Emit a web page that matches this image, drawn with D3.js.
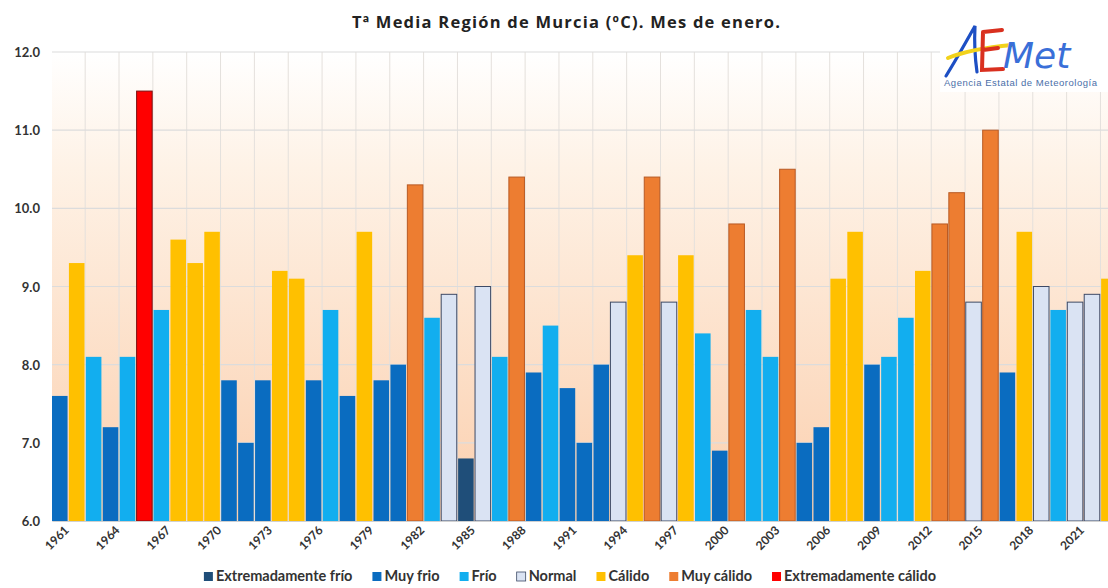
<!DOCTYPE html>
<html>
<head>
<meta charset="utf-8">
<script src="https://cdn.jsdelivr.net/npm/d3@7"></script>
<style>
  html, body { margin: 0; padding: 0; background: #fff; }
  #chart { width: 1108px; height: 588px; overflow: hidden; }
  text { font-family: Lato, "Open Sans", sans-serif; }
</style>
</head>
<body>
<div id="chart"></div>
<script>
// datos: temperatura media de enero, Región de Murcia
const years = d3.range(1961, 2024);
const values = [
  7.6, 9.3, 8.1, 7.2, 8.1, 11.5, 8.7, 9.6, 9.3, 9.7,
  7.8, 7.0, 7.8, 9.2, 9.1, 7.8, 8.7, 7.6, 9.7, 7.8,
  8.0, 10.3, 8.6, 8.9, 6.8, 9.0, 8.1, 10.4, 7.9, 8.5,
  7.7, 7.0, 8.0, 8.8, 9.4, 10.4, 8.8, 9.4, 8.4, 6.9,
  9.8, 8.7, 8.1, 10.5, 7.0, 7.2, 9.1, 9.7, 8.0, 8.1,
  8.6, 9.2, 9.8, 10.2, 8.8, 11.0, 7.9, 9.7, 9.0, 8.7,
  8.8, 8.9, 9.1
];
const classes = [
  "MF", "C", "F", "MF", "F", "EC", "F", "C", "C", "C",
  "MF", "MF", "MF", "C", "C", "MF", "F", "MF", "C", "MF",
  "MF", "MC", "F", "N", "EF", "N", "F", "MC", "MF", "F",
  "MF", "MF", "MF", "N", "C", "MC", "N", "C", "F", "MF",
  "MC", "F", "F", "MC", "MF", "MF", "C", "C", "MF", "F",
  "F", "C", "MC", "MC", "N", "MC", "MF", "C", "N", "F",
  "N", "N", "C"
];
const tickYears = [1961, 1964, 1967, 1970, 1973, 1976, 1979, 1982, 1985, 1988, 1991,
  1994, 1997, 2000, 2003, 2006, 2009, 2012, 2015, 2018, 2021];
const yTicks = [6, 7, 8, 9, 10, 11, 12];
const classKeys = ["EF", "MF", "F", "N", "C", "MC", "EC"];
const classNames = ["Extremadamente frío", "Muy frio", "Frío", "Normal", "Cálido", "Muy cálido", "Extremadamente cálido"];
const classFill = ["#1f4e79", "#0a6cc0", "#12aeef", "#dae3f3", "#ffc000", "#ed7d31", "#ff0000"];
const classStroke = ["none", "none", "none", "#3d4a66", "none", "#b85a24", "#7a1010"];

const dataset = years.map((y, i) => ({ year: y, value: values[i], cls: classes[i] }));

const width = 1108, height = 588;
const margin = { top: 52, left: 52, bottom: 67 };
const plotRight = 52 + 63 * 16.9; // el gráfico sale cortado por la derecha

const svg = d3.select("#chart").append("svg")
  .attr("width", width)
  .attr("height", height);

const x = d3.scaleBand()
  .domain(years)
  .range([margin.left, plotRight])
  .paddingInner(0.08)
  .paddingOuter(0);

const y = d3.scaleLinear()
  .domain([6, 12])
  .range([height - margin.bottom, margin.top]);

const fill = d3.scaleOrdinal().domain(classKeys).range(classFill);
const stroke = d3.scaleOrdinal().domain(classKeys).range(classStroke);

// fondo degradado
const defs = svg.append("defs");
const grad = defs.append("linearGradient")
  .attr("id", "bg").attr("x1", 0).attr("y1", 0).attr("x2", 0).attr("y2", 1);
grad.append("stop").attr("offset", "0%").attr("stop-color", "#ffffff");
grad.append("stop").attr("offset", "25%").attr("stop-color", "#fef2e6");
grad.append("stop").attr("offset", "100%").attr("stop-color", "#fbcfae");

svg.append("rect")
  .attr("x", margin.left)
  .attr("y", y(12))
  .attr("width", plotRight - margin.left)
  .attr("height", y(6) - y(12))
  .attr("fill", "url(#bg)");

// rejilla
const step = x.step();
const gap = step * x.paddingInner();
svg.append("g")
  .selectAll("line")
  .data(years.filter((d, i) => i > 0 && i % 2 === 0))
  .enter()
  .append("line")
  .attr("x1", d => x(d) - gap / 2)
  .attr("x2", d => x(d) - gap / 2)
  .attr("y1", y(12))
  .attr("y2", y(6))
  .attr("stroke", "#e4e0dc")
  .attr("stroke-width", 1);

svg.append("g")
  .selectAll("line")
  .data(yTicks)
  .enter()
  .append("line")
  .attr("x1", margin.left)
  .attr("x2", plotRight)
  .attr("y1", d => y(d))
  .attr("y2", d => y(d))
  .attr("stroke", "#dcdcdc")
  .attr("stroke-width", 1.2);

// barras
svg.append("g")
  .selectAll("rect")
  .data(dataset)
  .enter()
  .append("rect")
  .attr("x", d => x(d.year))
  .attr("y", d => y(d.value))
  .attr("width", x.bandwidth())
  .attr("height", d => y(6) - y(d.value))
  .attr("fill", d => fill(d.cls))
  .attr("stroke", d => stroke(d.cls))
  .attr("stroke-width", 1);

// eje Y
const yAxis = svg.append("g")
  .attr("transform", `translate(${margin.left},0)`)
  .call(d3.axisLeft(y).tickValues(yTicks).tickFormat(d3.format(".1f")).tickSize(0).tickPadding(12));
yAxis.select(".domain").remove();
yAxis.selectAll("text")
  .attr("dy", "0.35em")
  .style("font-size", "13px")
  .style("font-weight", "bold")
  .attr("fill", "#333");

// eje X
const xAxis = svg.append("g")
  .attr("transform", `translate(0,${y(6)})`)
  .call(d3.axisBottom(x).tickValues(tickYears).tickSize(0).tickPadding(0));
xAxis.select(".domain").attr("stroke", "#d0d0d0");
xAxis.selectAll("text")
  .attr("text-anchor", "end")
  .attr("transform", "translate(7,7) rotate(-45)")
  .attr("dy", "0.35em")
  .attr("y", 0)
  .style("font-size", "12px")
  .style("font-weight", "bold")
  .attr("fill", "#333");

// logo AEMET (fondo blanco)
const logo = svg.append("g");
logo.append("rect")
  .attr("x", 940).attr("y", 18).attr("width", 168).attr("height", 74)
  .attr("fill", "#fff");
logo.append("path")
  .attr("d", "M946,76 C956,60 966,42 975,26 C974,45 975,58 977,72")
  .attr("fill", "none").attr("stroke", "#1d4fc4").attr("stroke-width", 3.2)
  .attr("stroke-linecap", "round");
logo.append("path")
  .attr("d", "M948,58 C965,51 990,47 1012,45")
  .attr("fill", "none").attr("stroke", "#f2d21b").attr("stroke-width", 4)
  .attr("stroke-linecap", "round");
logo.append("path")
  .attr("d", "M983,32 L1002,30 M983,32 L982,70 L1003,69 M983,50 L998,48")
  .attr("fill", "none").attr("stroke", "#d9301f").attr("stroke-width", 4)
  .attr("stroke-linecap", "round");
logo.append("text")
  .attr("x", 1003).attr("y", 68)
  .style("font-family", "'DejaVu Sans', sans-serif")
  .style("font-style", "italic")
  .style("font-size", "36px")
  .attr("fill", "#3a6fd8")
  .text("Met");
logo.append("text")
  .attr("x", 944).attr("y", 86)
  .style("font-family", "'Liberation Sans', Arial, sans-serif")
  .style("font-size", "9.5px")
  .attr("fill", "#4a6ea8")
  .attr("textLength", 153)
  .text("Agencia Estatal de Meteorología");

// título
svg.append("text")
  .attr("x", 566)
  .attr("y", 28)
  .attr("text-anchor", "middle")
  .style("font-family", "'Open Sans', sans-serif")
  .style("font-size", "16.5px")
  .style("font-weight", "bold")
  .attr("fill", "#222")
  .attr("textLength", 428)
  .text("Tª Media Región de Murcia (ºC). Mes de enero.");

// leyenda
const legend = svg.append("g").attr("transform", "translate(0,581)");
const items = classKeys.map((k, i) => {
  const g = legend.append("g");
  g.append("rect")
    .attr("x", 0).attr("y", -9)
    .attr("width", 9).attr("height", 9)
    .attr("fill", fill(k))
    .attr("stroke", k === "N" ? "#3d4a66" : "none")
    .attr("stroke-width", 0.8);
  const t = g.append("text")
    .attr("x", 12).attr("y", 0)
    .style("font-size", "14.5px")
    .style("font-weight", "bold")
    .attr("fill", "#333")
    .text(classNames[i]);
  return { g, w: 12 + t.node().getComputedTextLength() };
});
const legendGap = 20;
const totalW = d3.sum(items, d => d.w) + legendGap * (items.length - 1);
let lx = 570 - totalW / 2;
items.forEach(it => {
  it.g.attr("transform", `translate(${lx},0)`);
  lx += it.w + legendGap;
});
</script>
</body>
</html>
